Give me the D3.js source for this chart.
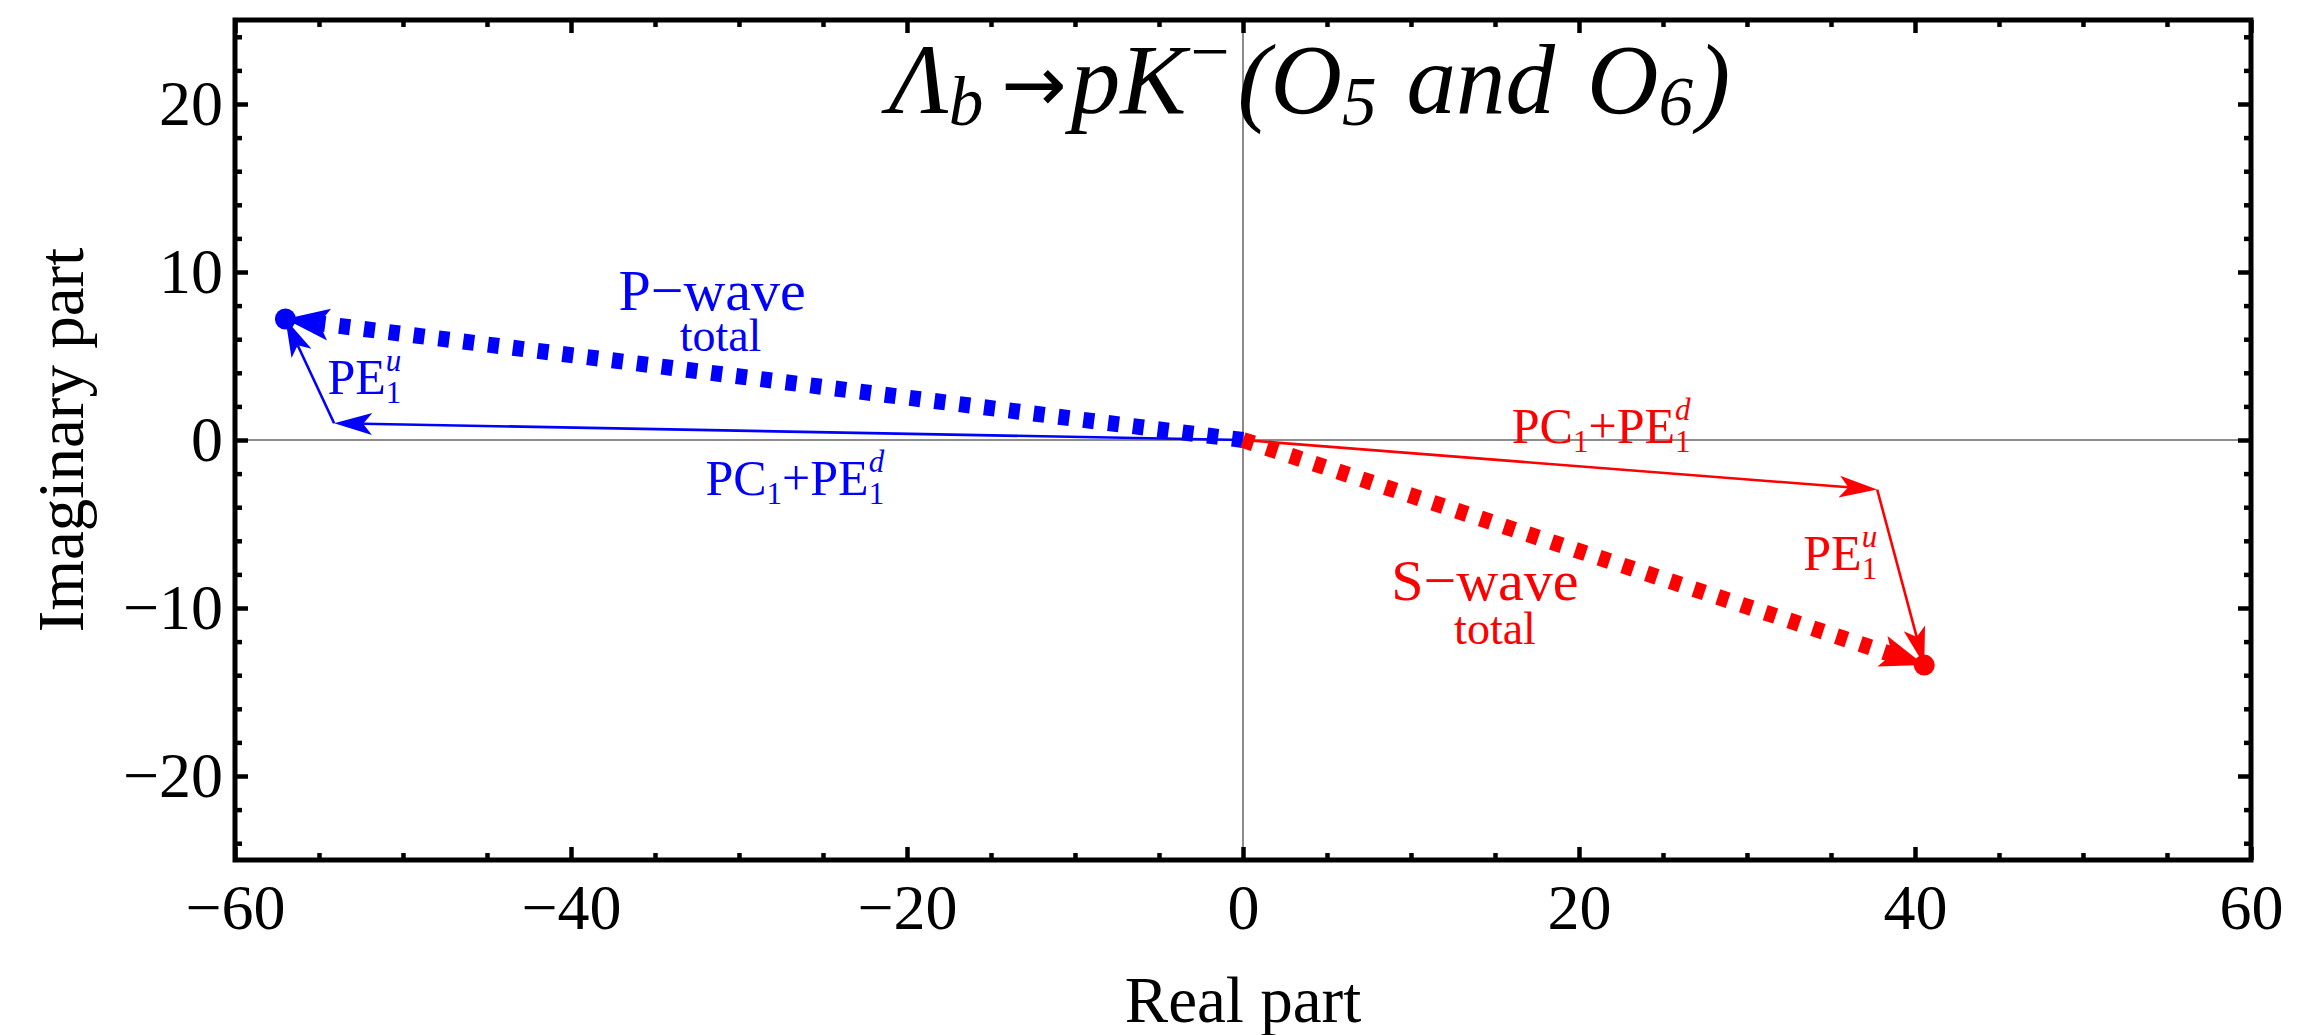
<!DOCTYPE html>
<html>
<head>
<meta charset="utf-8">
<script src="https://cdn.jsdelivr.net/npm/d3@7"></script>
<style>
body { margin: 0; background: #fff; }
text { font-family: "Liberation Serif", "Times New Roman", serif; }
</style>
</head>
<body>
<div id="chart"></div>
<script>
// amplitude pieces: origin -> PC1+PE1^d -> +PE1^u (= total)
var pWaveRe = [0, -54.1, -57.0];
var pWaveIm = [0, 1.0, 7.2];
var sWaveRe = [0, 37.75, 40.55];
var sWaveIm = [0, -2.95, -13.4];

var xTicks = [-60, -40, -20, 0, 20, 40, 60];
var yTicks = [-20, -10, 0, 10, 20];
var xMinor = d3.range(-60, 61, 5).filter(v => v % 20 != 0);
var yMinor = d3.range(-24, 25, 2).filter(v => v % 10 != 0);

// label anchors in data units
var labelRe = [-31.6, -31.1, -54.5, -32.0, 16.0, 33.35, 14.4, 15.0];
var labelIm = [7.75, 5.3, 2.76, -3.3, -0.2, -7.76, -9.55, -12.15];

var width = 2304;
var height = 1035;

var svg = d3.select("#chart")
  .append("svg")
    .attr("width", width)
    .attr("height", height);

var x = d3.scaleLinear().domain([-60, 60]).range([235, 2251]);
var y = d3.scaleLinear().domain([-25, 25]).range([860, 20]);

// zero lines
svg.append("line")
  .attr("x1", x(0)).attr("x2", x(0)).attr("y1", y(25)).attr("y2", y(-25))
  .attr("stroke", "#8c8c8c").attr("stroke-width", 2);
svg.append("line")
  .attr("x1", x(-60)).attr("x2", x(60)).attr("y1", y(0)).attr("y2", y(0))
  .attr("stroke", "#8c8c8c").attr("stroke-width", 2);

function frameAxis(axis, transform, vals, size, pad, labels){
  var g = svg.append("g")
    .attr("transform", transform)
    .call(axis.tickValues(vals).tickSizeInner(size).tickSizeOuter(0)
      .tickPadding(pad).tickFormat(labels ? d3.format("d") : ""));
  g.select(".domain").remove();
  g.attr("font-family", null).attr("font-size", 64);
  g.selectAll("line").attr("stroke", "#000").attr("stroke-width", 4.5);
  g.selectAll("text").attr("fill", "#000");
  return g;
}

frameAxis(d3.axisBottom(x), "translate(0," + y(-25) + ")", xTicks, -13, 24, true);
frameAxis(d3.axisBottom(x), "translate(0," + y(-25) + ")", xMinor, -7, 0, false);
frameAxis(d3.axisTop(x), "translate(0," + y(25) + ")", xTicks, -13, 0, false);
frameAxis(d3.axisTop(x), "translate(0," + y(25) + ")", xMinor, -7, 0, false);
frameAxis(d3.axisLeft(y), "translate(" + x(-60) + ",0)", yTicks, -13, 12, true);
frameAxis(d3.axisLeft(y), "translate(" + x(-60) + ",0)", yMinor, -7, 0, false);
frameAxis(d3.axisRight(y), "translate(" + x(60) + ",0)", yTicks, -13, 0, false);
frameAxis(d3.axisRight(y), "translate(" + x(60) + ",0)", yMinor, -7, 0, false);

svg.append("rect")
  .attr("x", x(-60)).attr("y", y(25))
  .attr("width", x(60) - x(-60)).attr("height", y(-25) - y(25))
  .attr("fill", "none").attr("stroke", "#000").attr("stroke-width", 5);

// arrow from (x0,y0) to (x1,y1) in data units
function arrow(x0, y0, x1, y1, color, thick){
  var ax = x(x0), ay = y(y0), bx = x(x1), by = y(y1);
  var len = Math.hypot(bx - ax, by - ay);
  var ux = (bx - ax) / len, uy = (by - ay) / len;
  var nx = -uy, ny = ux;
  var L = thick ? 44 : 38, W = thick ? 16 : 11, N = thick ? 10 : 9;
  var ex = bx - ux * (L - N), ey = by - uy * (L - N);
  svg.append("line")
    .attr("x1", ax).attr("y1", ay).attr("x2", ex).attr("y2", ey)
    .attr("stroke", color)
    .attr("stroke-width", thick ? 16 : 2.6)
    .attr("stroke-dasharray", thick ? "11,14" : null);
  svg.append("path")
    .attr("d", d3.line()([
      [bx, by],
      [bx - ux * L + nx * W, by - uy * L + ny * W],
      [ex, ey],
      [bx - ux * L - nx * W, by - uy * L - ny * W]]) + "Z")
    .attr("fill", color);
}

function drawWave(re, im, color){
  arrow(re[0], im[0], re[2], im[2], color, true);
  arrow(re[0], im[0], re[1], im[1], color, false);
  arrow(re[1], im[1], re[2], im[2], color, false);
  svg.append("circle")
    .attr("cx", x(re[2])).attr("cy", y(im[2])).attr("r", 10.5)
    .attr("fill", color);
}
drawWave(pWaveRe, pWaveIm, "#0000ff");
drawWave(sWaveRe, sWaveIm, "#ff0000");

// text made of pieces with sub/superscripts
function rich(px, py, parts, color, size, anchor){
  var g = svg.append("g");
  var cx = 0;
  parts.forEach(function(p){
    var small = p.sub || p.sup;
    var fs = small ? size * (p.k || 0.62) : (p.fs || size);
    var dy = p.sub ? size * (p.d || 0.18) : (p.sup ? -size * (p.d || 0.46) : (p.d || 0));
    var t = g.append("text")
      .attr("x", cx).attr("y", dy)
      .attr("font-size", fs)
      .attr("font-style", p.i ? "italic" : "normal")
      .attr("fill", color)
      .text(p.t);
    if (p.ff) t.style("font-family", p.ff);
    var w = t.node().getComputedTextLength();
    if (p.up){
      var t2 = g.append("text")
        .attr("x", cx).attr("y", -size * 0.46)
        .attr("font-size", fs).attr("font-style", "italic")
        .attr("fill", color).text(p.up);
      w = Math.max(w, t2.node().getComputedTextLength());
    }
    cx += w + (p.gap || 0);
  });
  var shift = anchor == "middle" ? -cx / 2 : 0;
  g.attr("transform", "translate(" + (px + shift) + "," + py + ")");
  return g;
}

var pc = [{t: "PC"}, {t: "1", sub: 1}, {t: "+PE"}, {t: "1", sub: 1, up: "d"}];
var peU = [{t: "PE"}, {t: "1", sub: 1, up: "u"}];

rich(x(labelRe[0]), y(labelIm[0]), [{t: "P\u2212wave"}], "#0000ff", 58, "middle");
rich(x(labelRe[1]), y(labelIm[1]), [{t: "total"}], "#0000ff", 46, "middle");
rich(x(labelRe[2]), y(labelIm[2]), peU, "#0000ff", 50, "start");
rich(x(labelRe[3]), y(labelIm[3]), pc, "#0000ff", 50, "start");
rich(x(labelRe[4]), y(labelIm[4]), pc, "#ff0000", 50, "start");
rich(x(labelRe[5]), y(labelIm[5]), peU, "#ff0000", 50, "start");
rich(x(labelRe[6]), y(labelIm[6]), [{t: "S\u2212wave"}], "#ff0000", 58, "middle");
rich(x(labelRe[7]), y(labelIm[7]), [{t: "total"}], "#ff0000", 46, "middle");

// title
rich(889, 113, [
  {t: "\u039B", i: 1},
  {t: "b", i: 1, sub: 1, k: 0.7, d: 0.12, gap: 18},
  {t: "\u2192", ff: "DejaVu Sans", fs: 78, d: -2, gap: 4},
  {t: "pK", i: 1, gap: 4},
  {t: "\u2212", sup: 1, k: 0.7, d: 0.38, gap: 8},
  {t: "(", i: 1},
  {t: "O", i: 1},
  {t: "5", i: 1, sub: 1, k: 0.7, d: 0.12, gap: 30},
  {t: "and", i: 1, gap: 32},
  {t: "O", i: 1},
  {t: "6", i: 1, sub: 1, k: 0.7, d: 0.12, gap: 4},
  {t: ")", i: 1}], "#000", 99, "start");

// axis titles
svg.append("text")
  .attr("x", x(0)).attr("y", 1022)
  .attr("text-anchor", "middle").attr("font-size", 65)
  .text("Real part");
svg.append("text")
  .attr("transform", "translate(83," + y(0) + ") rotate(-90)")
  .attr("text-anchor", "middle").attr("font-size", 65)
  .text("Imaginary part");
</script>
</body>
</html>
